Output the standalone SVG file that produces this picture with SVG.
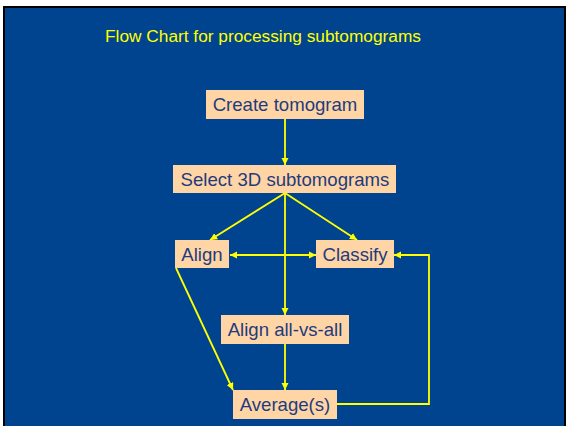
<svg xmlns="http://www.w3.org/2000/svg" width="566" height="426" viewBox="0 0 566 426">
<style>
.box{fill:#FFD5A6}
.lbl{font-family:"Liberation Sans",Arial,sans-serif;font-size:18.6px;fill:#1E3C7D;text-anchor:middle}
.title{font-family:"Liberation Sans",Arial,sans-serif;font-size:17.3px;fill:#FFFF00;text-anchor:middle}
.c{stroke:#FFFF00;stroke-width:1.8;fill:none}
</style>
<defs>
<marker id="ah" viewBox="0 0 10 10" refX="10" refY="5" markerWidth="4" markerHeight="4" orient="auto-start-reverse" markerUnits="strokeWidth">
<path d="M0,0 L10,5 L0,10 z" fill="#FFFF00"/>
</marker>
</defs>
<rect x="0" y="0" width="566" height="426" fill="#FFFFFF"/>
<rect x="3" y="6" width="563" height="420" fill="#000000"/>
<rect x="5" y="8" width="559" height="418" fill="#00448F"/>
<text class="title" x="263" y="42">Flow Chart for processing subtomograms</text>
<g id="connectors">
<line class="c" x1="285" y1="119" x2="285" y2="165" marker-end="url(#ah)"/>
<line class="c" x1="285" y1="193" x2="210" y2="240" marker-end="url(#ah)"/>
<line class="c" x1="285" y1="193" x2="357" y2="240" marker-end="url(#ah)"/>
<line class="c" x1="285" y1="193" x2="285" y2="315" marker-end="url(#ah)"/>
<line class="c" x1="230" y1="255" x2="316" y2="255" marker-start="url(#ah)" marker-end="url(#ah)"/>
<polyline class="c" points="337,404 429,404 429,255 394,255" marker-end="url(#ah)"/>
<line class="c" x1="176" y1="268" x2="233" y2="390" marker-end="url(#ah)"/>
<line class="c" x1="285" y1="344" x2="285" y2="390" marker-end="url(#ah)"/>
</g>
<g id="create">
<rect class="box" x="206" y="90" width="158" height="29"/>
<text class="lbl" x="285" y="111">Create tomogram</text>
</g>
<g id="select">
<rect class="box" x="173" y="165" width="223" height="28"/>
<text class="lbl" x="285" y="186">Select 3D subtomograms</text>
</g>
<g id="align">
<rect class="box" x="175" y="240" width="54" height="28"/>
<text class="lbl" x="202" y="261">Align</text>
</g>
<g id="classify">
<rect class="box" x="316" y="240" width="78" height="28"/>
<text class="lbl" x="355" y="261">Classify</text>
</g>
<g id="allvsall">
<rect class="box" x="221" y="315" width="128" height="29"/>
<text class="lbl" x="285" y="336">Align all-vs-all</text>
</g>
<g id="average">
<rect class="box" x="233" y="390" width="104" height="29"/>
<text class="lbl" x="285" y="411">Average(s)</text>
</g>
</svg>
